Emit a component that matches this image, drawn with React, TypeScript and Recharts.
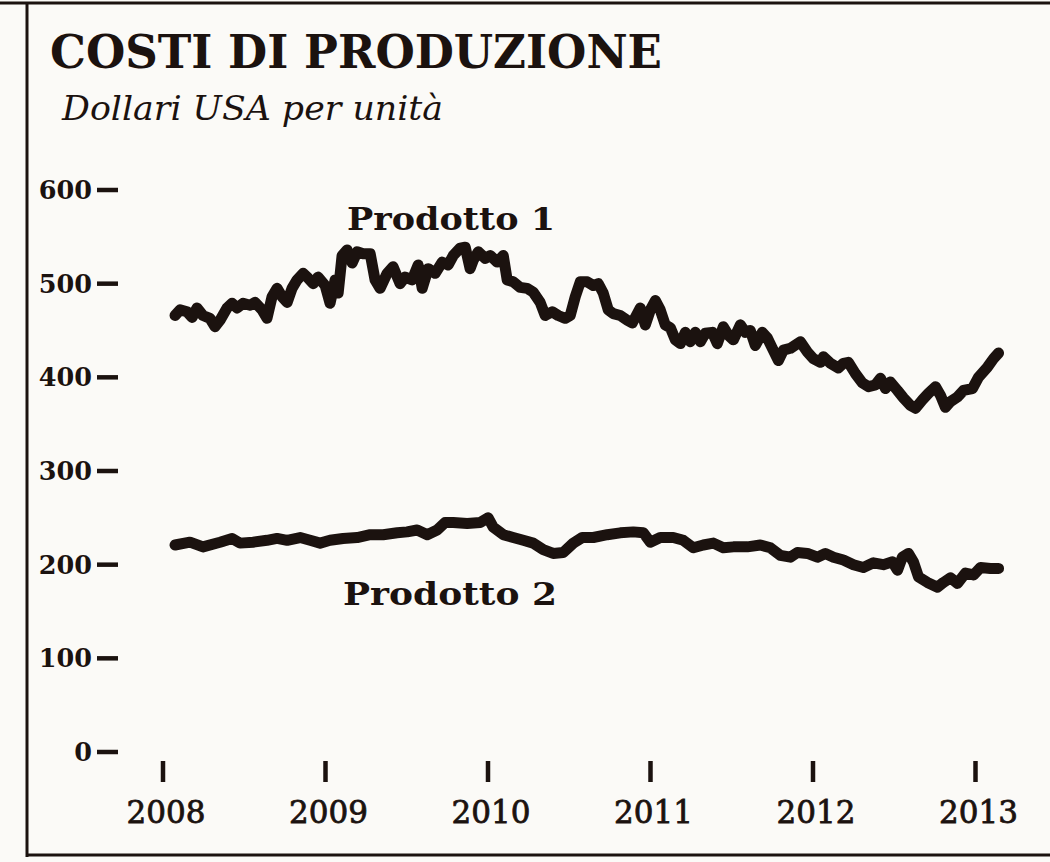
import { Line, LineChart, XAxis, YAxis } from 'recharts';

const INK = '#1b120f';
const PAPER = '#fbfaf7';
const FONT = '"DejaVu Serif", serif';

const YEARS = [2008, 2009, 2010, 2011, 2012, 2013];
const Y_TICKS = [0, 100, 200, 300, 400, 500, 600];

// Prodotto 1 (time in fractional years, value in USD)
const P1_T = [
  2008.074, 2008.105, 2008.148, 2008.179, 2008.209, 2008.246, 2008.289, 2008.32, 2008.351, 2008.394,
  2008.425, 2008.456, 2008.493, 2008.536, 2008.567, 2008.61, 2008.64, 2008.671, 2008.702, 2008.733,
  2008.764, 2008.794, 2008.825, 2008.862, 2008.893, 2008.924, 2008.954, 2008.998, 2009.028, 2009.059,
  2009.078, 2009.102, 2009.133, 2009.164, 2009.195, 2009.232, 2009.275, 2009.305, 2009.336, 2009.379,
  2009.416, 2009.459, 2009.49, 2009.533, 2009.57, 2009.595, 2009.632, 2009.675, 2009.718, 2009.755,
  2009.786, 2009.829, 2009.86, 2009.89, 2009.909, 2009.94, 2009.983, 2010.014, 2010.057, 2010.094,
  2010.118, 2010.155, 2010.198, 2010.241, 2010.278, 2010.321, 2010.352, 2010.395, 2010.432, 2010.475,
  2010.506, 2010.537, 2010.568, 2010.611, 2010.648, 2010.679, 2010.709, 2010.74, 2010.771, 2010.814,
  2010.857, 2010.888, 2010.919, 2010.937, 2010.968, 2010.999, 2011.03, 2011.06, 2011.091, 2011.122,
  2011.153, 2011.184, 2011.214, 2011.245, 2011.276, 2011.307, 2011.337, 2011.38, 2011.411, 2011.448,
  2011.479, 2011.51, 2011.553, 2011.584, 2011.614, 2011.645, 2011.688, 2011.719, 2011.75, 2011.787,
  2011.818, 2011.861, 2011.922, 2011.966, 2012.002, 2012.046, 2012.064, 2012.107, 2012.156, 2012.187,
  2012.218, 2012.261, 2012.304, 2012.341, 2012.384, 2012.415, 2012.446, 2012.476, 2012.52, 2012.557,
  2012.6, 2012.631, 2012.674, 2012.711, 2012.754, 2012.784, 2012.815, 2012.846, 2012.889, 2012.926,
  2012.981, 2013.018, 2013.074, 2013.111, 2013.142,
];
const P1_V = [
  466, 472, 470, 464, 474, 466, 463, 454, 461, 474,
  479, 474, 479, 477, 480, 472, 463, 486, 495, 486,
  480, 495, 504, 511, 506, 500, 507, 498, 479, 504,
  490, 530, 536, 522, 534, 532, 532, 504, 495, 511,
  518, 500, 507, 504, 520, 495, 516, 511, 523, 520,
  530, 538, 539, 516, 525, 534, 527, 530, 523, 530,
  504, 502, 496, 495, 491, 480, 466, 470, 466, 463,
  466, 486, 502, 502, 498, 500, 490, 472, 468, 466,
  461, 458, 468, 474, 456, 472, 482, 472, 456, 453,
  440, 436, 448, 438, 448, 438, 447, 448, 436, 454,
  445, 440, 456, 448, 450, 434, 448, 442, 431, 418,
  429, 431, 438, 427, 420, 416, 422, 415, 410, 415,
  416, 404, 394, 390, 392, 399, 388, 395, 386, 378,
  370, 367, 376, 383, 390, 381, 368, 374, 379, 386,
  388, 400, 411, 420, 426,
];

// Prodotto 2
const P2_T = [
  2008.074, 2008.166, 2008.246, 2008.351, 2008.425, 2008.474, 2008.554, 2008.64, 2008.702, 2008.764,
  2008.844, 2008.905, 2008.967, 2009.028, 2009.108, 2009.195, 2009.275, 2009.355, 2009.441, 2009.502,
  2009.564, 2009.626, 2009.687, 2009.736, 2009.786, 2009.872, 2009.952, 2010.001, 2010.032, 2010.094,
  2010.155, 2010.217, 2010.278, 2010.34, 2010.401, 2010.463, 2010.525, 2010.58, 2010.648, 2010.734,
  2010.814, 2010.894, 2010.956, 2010.999, 2011.06, 2011.14, 2011.202, 2011.264, 2011.325, 2011.387,
  2011.448, 2011.51, 2011.596, 2011.676, 2011.738, 2011.799, 2011.861, 2011.904, 2011.966, 2012.027,
  2012.076, 2012.126, 2012.187, 2012.249, 2012.31, 2012.372, 2012.433, 2012.489, 2012.52, 2012.55,
  2012.587, 2012.618, 2012.649, 2012.704, 2012.766, 2012.803, 2012.846, 2012.889, 2012.938, 2012.988,
  2013.031, 2013.092, 2013.142,
];
const P2_V = [
  221, 224, 219, 224, 228, 223, 224, 226, 228, 226,
  229, 226, 223, 226, 228, 229, 232, 232, 234, 235,
  237, 232, 237, 245, 245, 244, 245, 250, 240, 232,
  229, 226, 223, 216, 212, 213, 223, 229, 229, 232,
  234, 235, 234, 224, 229, 229, 226, 218, 221, 223,
  218, 219, 219, 221, 218, 210, 208, 213, 212, 208,
  212, 208, 205, 200, 197, 202, 200, 203, 194, 208,
  212, 203, 187, 181, 176, 181, 186, 180, 191, 189,
  197, 196, 196,
];

const p1 = P1_T.map((t, i) => ({ t, v: P1_V[i] }));
const p2 = P2_T.map((t, i) => ({ t, v: P2_V[i] }));

function YTick(props: any) {
  const { x, y, payload } = props;
  return (
    <g>
      <text
        x={x - 71}
        y={y + 9}
        textAnchor="end"
        fontFamily={FONT}
        fontWeight="bold"
        fontSize={25.5}
        fill={INK}
      >
        {payload.value}
      </text>
      <line x1={x - 66} x2={x - 45} y1={y} y2={y} stroke={INK} strokeWidth={4.5} />
    </g>
  );
}

function XTick(props: any) {
  const { x, y, payload } = props;
  return (
    <g>
      <line x1={x} x2={x} y1={y + 9} y2={y + 30} stroke={INK} strokeWidth={4.5} />
      <text
        x={x + 3}
        y={y + 71}
        textAnchor="middle"
        fontFamily={FONT}
        fontSize={31}
        stroke={INK}
        strokeWidth={0.8}
        fill={INK}
      >
        {payload.value}
      </text>
    </g>
  );
}

export default function App() {
  return (
    <div
      style={{
        position: 'absolute',
        left: 0,
        top: 0,
        width: 1050,
        height: 862,
        background: PAPER,
        overflow: 'hidden',
      }}
    >
      <LineChart width={1050} height={862} margin={{ top: 190, right: 42, bottom: 80, left: 0 }}>
        <XAxis
          type="number"
          dataKey="t"
          domain={[2008, 2013.2]}
          ticks={YEARS}
          height={30}
          axisLine={false}
          tickLine={false}
          tickSize={0}
          tickMargin={0}
          tick={<XTick />}
        />
        <YAxis
          type="number"
          domain={[0, 600]}
          ticks={Y_TICKS}
          width={163}
          axisLine={false}
          tickLine={false}
          tickSize={0}
          tickMargin={0}
          tick={<YTick />}
        />
        <Line
          data={p1}
          dataKey="v"
          type="linear"
          stroke={INK}
          strokeWidth={11}
          strokeLinejoin="round"
          strokeLinecap="round"
          dot={false}
          isAnimationActive={false}
        />
        <Line
          data={p2}
          dataKey="v"
          type="linear"
          stroke={INK}
          strokeWidth={11}
          strokeLinejoin="round"
          strokeLinecap="round"
          dot={false}
          isAnimationActive={false}
        />
      </LineChart>

      <svg
        width={1050}
        height={862}
        style={{ position: 'absolute', left: 0, top: 0, pointerEvents: 'none' }}
      >
        {/* frame */}
        <line x1={0} x2={1050} y1={3} y2={3} stroke={INK} strokeWidth={3} />
        <line x1={27} x2={27} y1={3} y2={857} stroke={INK} strokeWidth={3} />
        <line x1={27} x2={1050} y1={855} y2={855} stroke={INK} strokeWidth={3} />

        <text
          x={50}
          y={68}
          fontFamily={FONT}
          fontWeight="bold"
          fontSize={46}
          textLength={612}
          lengthAdjust="spacingAndGlyphs"
          fill={INK}
        >
          COSTI DI PRODUZIONE
        </text>
        <text
          x={62}
          y={120}
          fontFamily={FONT}
          fontStyle="italic"
          fontSize={34}
          textLength={381}
          lengthAdjust="spacingAndGlyphs"
          fill={INK}
        >
          Dollari USA per unità
        </text>

        <text
          x={347}
          y={230}
          fontFamily={FONT}
          fontWeight="bold"
          fontSize={31}
          textLength={208}
          lengthAdjust="spacingAndGlyphs"
          fill={INK}
        >
          Prodotto 1
        </text>
        <text
          x={343}
          y={605}
          fontFamily={FONT}
          fontWeight="bold"
          fontSize={31}
          textLength={214}
          lengthAdjust="spacingAndGlyphs"
          fill={INK}
        >
          Prodotto 2
        </text>
      </svg>
    </div>
  );
}
